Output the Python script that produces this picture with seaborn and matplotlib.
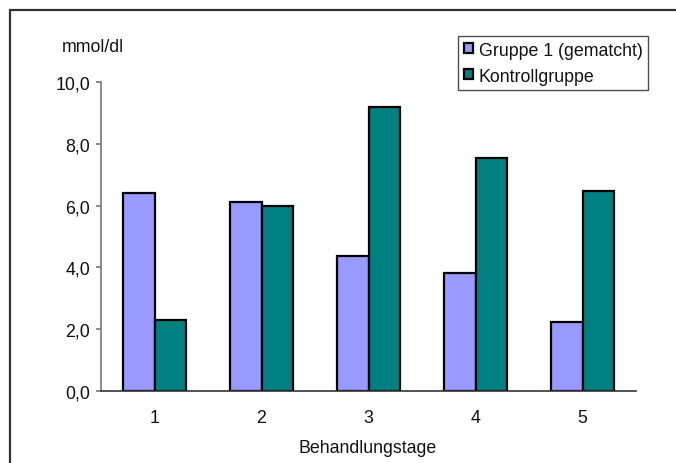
import matplotlib
matplotlib.use("Agg")
import matplotlib.pyplot as plt
import matplotlib.patches as mpatches
from matplotlib.ticker import FuncFormatter, FixedLocator
import seaborn as sns
import pandas as pd

tage = ["1", "2", "3", "4", "5"]
gruppe1 = [6.40, 6.13, 4.38, 3.83, 2.22]
kontrolle = [2.30, 6.00, 9.20, 7.53, 6.47]
gruppen = ["Gruppe 1 (gematcht)", "Kontrollgruppe"]
farben = ["#9999FF", "#008080"]

sns.set_style("white")
plt.rcParams["font.family"] = ["Liberation Sans", "DejaVu Sans"]
FS = 12.8
TXT = "#111111"

df = pd.DataFrame({
    "Tag": tage * 2,
    "Wert": gruppe1 + kontrolle,
    "Gruppe": [gruppen[0]] * len(tage) + [gruppen[1]] * len(tage),
})

fig = plt.figure(figsize=(6.76, 4.64), dpi=100)
ax = fig.add_axes([101 / 676, 72 / 464, 535 / 676, 309 / 464])

sns.barplot(data=df, x="Tag", y="Wert", hue="Gruppe", palette=farben,
            edgecolor="black", linewidth=1.6, width=0.58, gap=0,
            saturation=1, ax=ax, legend=True)

ax.set_ylim(0, 10)
ax.set_xlim(-0.5, 4.5)
ax.set_yticks([0, 2, 4, 6, 8, 10])
ax.yaxis.set_major_formatter(FuncFormatter(lambda v, p: f"{v:.1f}".replace(".", ",")))
ax.xaxis.set_minor_locator(FixedLocator([-0.5, 0.5, 1.5, 2.5, 3.5, 4.5]))
ax.tick_params(axis="x", which="major", length=0, pad=13, labelsize=FS, colors=TXT)
ax.tick_params(axis="x", which="minor", length=3.5, width=1.2, color="#333333", direction="out")
ax.tick_params(axis="y", which="major", length=3.5, width=1.2, color="#777777", direction="out",
               left=True, labelsize=FS, labelcolor=TXT, pad=4.3)
ax.set_xlabel("")
ax.set_ylabel("")

for side in ["top", "right"]:
    ax.spines[side].set_visible(False)
ax.spines["left"].set_color("#777777")
ax.spines["left"].set_linewidth(1.2)
ax.spines["bottom"].set_color("#333333")
ax.spines["bottom"].set_linewidth(1.2)

ax.get_legend().remove()
handles = [mpatches.Patch(facecolor=c, edgecolor="black", linewidth=1.6, label=g)
           for c, g in zip(farben, gruppen)]
leg = fig.legend(handles=handles, loc="upper left",
                 bbox_to_anchor=(458 / 676, 1 - 37 / 464),
                 frameon=True, fancybox=False, fontsize=FS,
                 handlelength=0.5, handleheight=0.5, handletextpad=0.35,
                 labelspacing=0.5, borderpad=0.32, borderaxespad=0)
leg.get_frame().set_edgecolor("#222222")
leg.get_frame().set_linewidth(1.0)
for t in leg.get_texts():
    t.set_color(TXT)

fig.text(62 / 676, 1 - 48 / 464, "mmol/dl", fontsize=FS, va="center", ha="left", color=TXT)
fig.text(368 / 676, 1 - 449 / 464, "Behandlungstage", fontsize=FS, va="center", ha="center",
         color=TXT)

# outer chart frame
fig.patches.append(mpatches.Rectangle((10 / 676, -0.2), 1.2, 1.2 - 11 / 464,
                                      transform=fig.transFigure, fill=False,
                                      edgecolor="#333333", linewidth=1.6, clip_on=False))

fig.savefig("out.png", dpi=100)
